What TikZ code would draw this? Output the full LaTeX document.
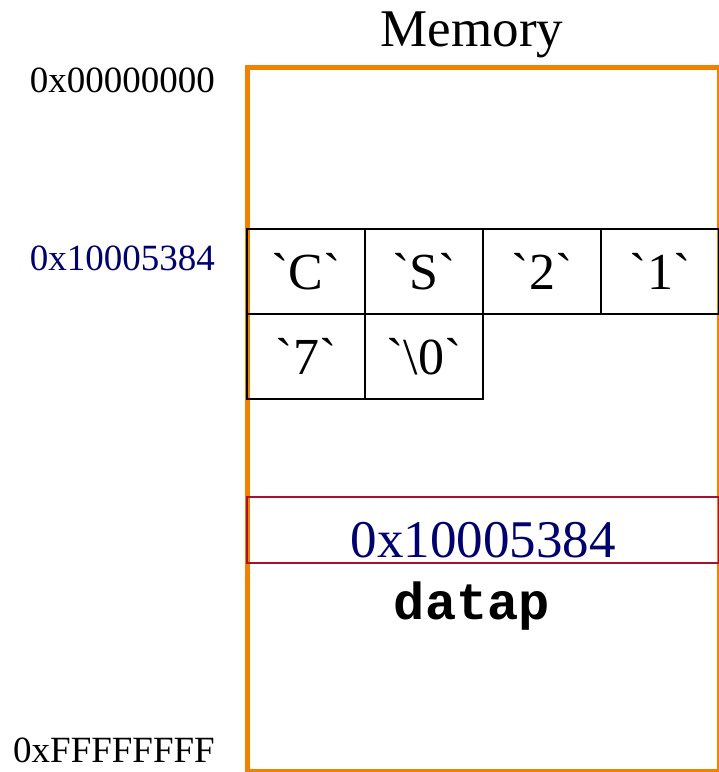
\documentclass[tikz,border=0pt]{standalone}
\usepackage{fontspec}
\setmainfont{Liberation Serif}
\setmonofont{Liberation Mono}
\usetikzlibrary{positioning}
\definecolor{memorange}{RGB}{243,128,0}
\definecolor{addrblue}{RGB}{0,0,110}
\definecolor{ptrred}{RGB}{168,16,48}
\tikzstyle{membox} = [rectangle, draw=memorange, line width=5pt, minimum width=472pt, minimum height=704.5pt, inner sep=0pt, outer sep=0pt]
\tikzstyle{cell} = [rectangle, draw=black, line width=1.5pt, minimum width=118pt, minimum height=85pt, inner sep=0pt, outer sep=0pt, font=\fontsize{52}{62}\selectfont]
\tikzstyle{ptrbox} = [rectangle, draw=ptrred, line width=1.2pt, minimum width=472pt, text height=61pt, text depth=5pt, inner sep=0pt, outer sep=0pt, text=addrblue, font=\fontsize{53}{62}\selectfont]
\tikzstyle{addr} = [anchor=east, inner sep=0pt, font=\fontsize{37}{44}\selectfont]
\newcommand{\chr}[1]{\textasciigrave#1\textasciigrave}

\begin{document}
\begin{tikzpicture}[x=1pt, y=1pt, node distance=0pt]
    \useasboundingbox (0,0) rectangle (719,772);
    \node (mem) [membox] at (483,352.25) {};
    \node (title) [above=9pt of mem.north, xshift=-11pt, inner sep=0pt, font=\fontsize{53}{62}\selectfont] {Memory};

    \node (top) [addr] at (215,692) {0x00000000};
    \node (start) [addr, text=addrblue] at (215,514) {0x10005384};
    \node (bottom) [addr] at (215,22) {0xFFFFFFFF};

    \node (c1) [cell] at (306,500.5) {\chr{C}};
    \node (c2) [cell, right=of c1] {\chr{S}};
    \node (c3) [cell, right=of c2] {\chr{2}};
    \node (c4) [cell, right=of c3] {\chr{1}};
    \node (c5) [cell, below=of c1] {\chr{7}};
    \node (c6) [cell, right=of c5] {\chr{\textbackslash0}};

    \node (ptr) [ptrbox, anchor=base] at (483,214) {0x10005384};
    \node (name) [anchor=base, inner sep=0pt, font=\fontsize{52}{62}\selectfont\ttfamily\bfseries] at (472,152) {datap};
  \end{tikzpicture}
\end{document}
